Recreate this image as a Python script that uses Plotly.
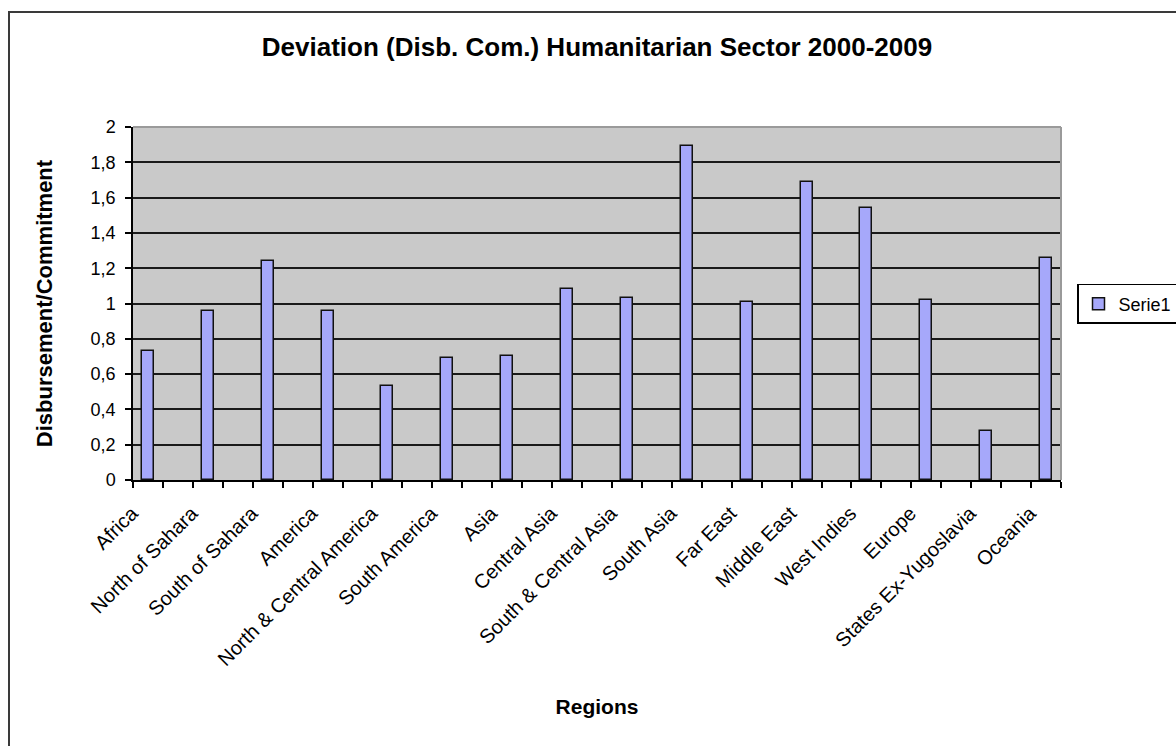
import plotly.graph_objects as go

# Regions and the disbursement/commitment ratio for the humanitarian sector, 2000-2009
regions = [
    "Africa", "North of Sahara", "South of Sahara", "America",
    "North & Central America", "South America", "Asia", "Central Asia",
    "South & Central Asia", "South Asia", "Far East", "Middle East",
    "West Indies", "Europe", "States Ex-Yugoslavia", "Oceania",
]
ratios = [0.73, 0.96, 1.24, 0.96, 0.53, 0.69, 0.70, 1.08,
          1.03, 1.89, 1.01, 1.69, 1.54, 1.02, 0.28, 1.26]
y_ticks = [0, 0.2, 0.4, 0.6, 0.8, 1.0, 1.2, 1.4, 1.6, 1.8, 2.0]

# Each region occupies every other slot on the category axis (blank slot between)
slot_step = 2
x_pos = [i * slot_step for i in range(len(regions))]
n_slots = (len(regions) - 1) * slot_step + 1
boundaries = [i - 0.5 for i in range(n_slots + 1)]

FONT = "Arial, Liberation Sans, sans-serif"
BAR_FILL = "#A6A8FA"
PLOT_BG = "#C9C9C9"

fig = go.Figure()
fig.add_trace(go.Bar(
    x=x_pos,
    y=ratios,
    name="Serie1",
    width=0.4,
    marker=dict(color=BAR_FILL, line=dict(color="#111111", width=1.5)),
    showlegend=True,
))

fig.update_layout(
    template="none",
    width=1176,
    height=746,
    separators=", ",
    paper_bgcolor="white",
    plot_bgcolor=PLOT_BG,
    margin=dict(l=133, r=115, t=127, b=266, autoexpand=False),
    font=dict(family=FONT, color="#000000"),
    title=dict(
        text="<b>Deviation (Disb. Com.) Humanitarian Sector 2000-2009</b>",
        font=dict(size=26, family=FONT, color="#000000"),
        x=0.5, xref="paper", xanchor="center",
        y=1 - 47 / 746, yref="container", yanchor="middle",
    ),
    xaxis=dict(
        range=[-0.5, n_slots - 0.5],
        tickmode="array",
        tickvals=x_pos,
        ticktext=regions,
        tickangle=-45,
        ticks="",
        ticklabelstandoff=12,
        ticklabelshift=-16,
        tickfont=dict(size=20, family=FONT, color="#000000"),
        showgrid=False,
        zeroline=False,
        showline=True,
        linecolor="#000000",
        linewidth=1.5,
        minor=dict(
            tickmode="array",
            tickvals=boundaries,
            ticks="outside",
            ticklen=6,
            tickwidth=1.5,
            tickcolor="#000000",
            showgrid=False,
        ),
        title=dict(text="<b>Regions</b>", font=dict(size=21, family=FONT, color="#000000"), standoff=30),
        automargin=False,
    ),
    yaxis=dict(
        range=[0, 2],
        tickmode="array",
        tickvals=y_ticks,
        ticks="outside",
        ticklen=6,
        tickwidth=1.5,
        tickcolor="#000000",
        ticklabelstandoff=6,
        tickfont=dict(size=18, family=FONT, color="#000000"),
        showgrid=True,
        gridcolor="#1A1A1A",
        gridwidth=1.5,
        zeroline=False,
        showline=True,
        linecolor="#000000",
        linewidth=1.5,
        title=dict(text="<b>Disbursement/Commitment</b>", font=dict(size=22, family=FONT, color="#000000"), standoff=32),
        automargin=False,
    ),
    legend=dict(
        x=(1077 - 133) / 928, xanchor="left",
        y=0.4986, yanchor="middle",
        bgcolor="white",
        bordercolor="#000000",
        borderwidth=1.5,
        font=dict(size=18, family=FONT, color="#000000"),
        itemwidth=30,
    ),
    bargap=0,
)

# Gray frame along the top and right edges of the plot area
fig.add_shape(type="line", xref="paper", yref="paper", x0=0, x1=1, y0=1, y1=1,
              line=dict(color="#9A9A9A", width=2), layer="above")
fig.add_shape(type="line", xref="paper", yref="paper", x0=1, x1=1, y0=0, y1=1,
              line=dict(color="#9A9A9A", width=2), layer="above")

# Outer chart border
fig.add_shape(type="rect", xref="paper", yref="paper",
              x0=(9 - 133) / 928, x1=(1200 - 133) / 928,
              y0=(480 - 770) / 353, y1=(480 - 12) / 353,
              line=dict(color="#3A3A3A", width=2), fillcolor="rgba(0,0,0,0)", layer="above")

fig.write_html("out.html")
